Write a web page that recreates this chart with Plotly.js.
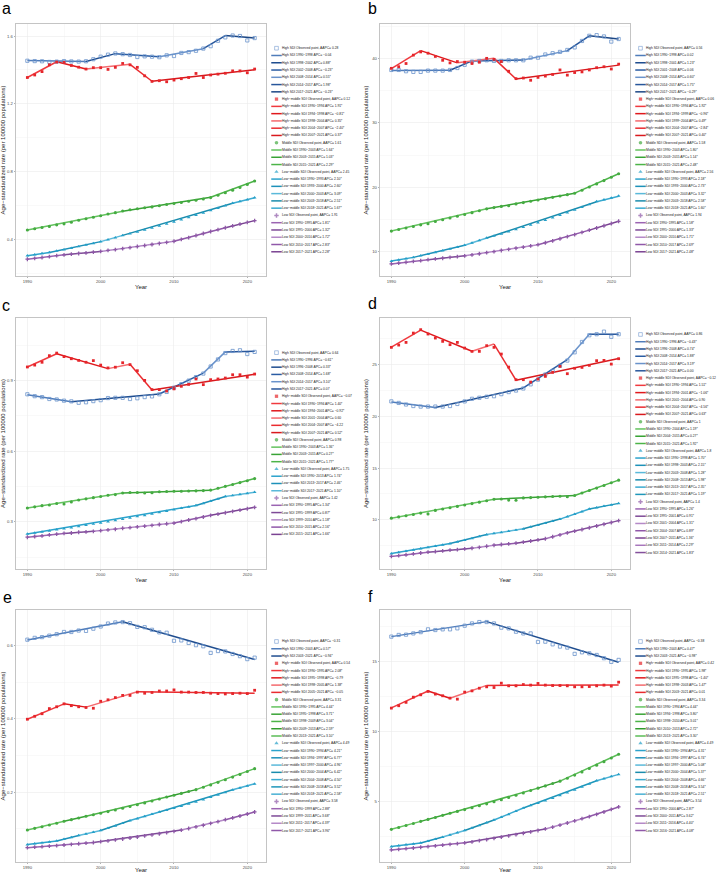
<!DOCTYPE html>
<html><head><meta charset="utf-8">
<script src="https://cdn.plot.ly/plotly-3.0.1.min.js"></script>
<style>html,body{margin:0;padding:0;background:#fff}#chart{width:728px;height:873px}</style>
</head><body><div id="chart"></div>
<script>
const years = [1990,1991,1992,1993,1994,1995,1996,1997,1998,1999,2000,2001,2002,2003,2004,2005,2006,2007,2008,2009,2010,2011,2012,2013,2014,2015,2016,2017,2018,2019,2020,2021];

// ---------- panel a ----------
const a_high_obs = [1.454,1.452,1.451,1.447,1.449,1.452,1.450,1.449,1.451,1.463,1.478,1.490,1.497,1.493,1.488,1.476,1.480,1.478,1.475,1.486,1.482,1.500,1.505,1.513,1.526,1.540,1.572,1.592,1.603,1.600,1.574,1.588];
const a_high_jpYears = [1990,1998,2002,2008,2014,2017,2021];
const a_high_jpFit = [1.455,1.450,1.496,1.478,1.525,1.603,1.588];
const a_hm_obs = [1.355,1.370,1.390,1.430,1.446,1.444,1.426,1.416,1.405,1.413,1.413,1.403,1.415,1.438,1.430,1.415,1.365,1.332,1.336,1.330,1.340,1.348,1.355,1.379,1.355,1.370,1.375,1.380,1.394,1.394,1.383,1.405];
const a_hm_jpYears = [1990,1994,1998,2004,2007,2021];
const a_hm_jpFit = [1.355,1.448,1.405,1.433,1.333,1.401];
const a_mid_obs = [0.455,0.462,0.469,0.476,0.485,0.491,0.500,0.512,0.521,0.530,0.539,0.549,0.557,0.567,0.574,0.580,0.586,0.591,0.598,0.605,0.611,0.617,0.624,0.630,0.638,0.646,0.660,0.675,0.690,0.706,0.724,0.744];
const a_mid_jpYears = [1990,2003,2015,2021];
const a_mid_jpFit = [0.455,0.566,0.648,0.744];
const a_lm_obs = [0.303,0.309,0.316,0.322,0.331,0.339,0.348,0.357,0.366,0.376,0.386,0.398,0.410,0.423,0.433,0.444,0.455,0.467,0.479,0.491,0.503,0.516,0.529,0.542,0.556,0.570,0.584,0.598,0.613,0.623,0.634,0.645];
const a_lm_jpYears = [1990,1993,2000,2003,2018,2021];
const a_lm_jpFit = [0.303,0.322,0.386,0.423,0.613,0.645];
const a_low_obs = [0.282,0.287,0.292,0.297,0.303,0.308,0.312,0.316,0.320,0.324,0.328,0.334,0.339,0.345,0.351,0.357,0.363,0.369,0.375,0.382,0.388,0.399,0.410,0.422,0.434,0.446,0.457,0.468,0.479,0.489,0.500,0.510];
const a_low_jpYears = [1990,1995,2000,2010,2017,2021];
const a_low_jpFit = [0.282,0.308,0.328,0.388,0.468,0.510];
const a_labels = [
"High SDI Observed point, AAPC= 0.28","High SDI 1990−1998 APC= −0.04","High SDI 1998−2002 APC= 0.88*","High SDI 2002−2008 APC= −0.23*","High SDI 2008−2014 APC= 0.55*","High SDI 2014−2017 APC= 1.98*","High SDI 2017−2021 APC= −0.23*",
"High−middle SDI Observed point, AAPC= 0.12","High−middle SDI 1990−1994 APC= 1.91*","High−middle SDI 1994−1998 APC= −0.81*","High−middle SDI 1998−2004 APC= 0.35*","High−middle SDI 2004−2007 APC= −2.40*","High−middle SDI 2007−2021 APC= 0.37*",
"Middle SDI Observed point, AAPC= 1.61","Middle SDI 1990−2003 APC= 1.64*","Middle SDI 2003−2015 APC= 1.03*","Middle SDI 2015−2021 APC= 2.29*",
"Low−middle SDI Observed point, AAPC= 2.45","Low−middle SDI 1990−1993 APC= 2.10*","Low−middle SDI 1993−2000 APC= 2.60*","Low−middle SDI 2000−2003 APC= 3.09*","Low−middle SDI 2003−2018 APC= 2.51*","Low−middle SDI 2018−2021 APC= 1.67*",
"Low SDI Observed point, AAPC= 1.91","Low SDI 1990−1995 APC= 1.81*","Low SDI 1995−2000 APC= 1.32*","Low SDI 2000−2010 APC= 1.72*","Low SDI 2010−2017 APC= 2.83*","Low SDI 2017−2021 APC= 2.28*"];

// ---------- panel b ----------
const b_high_obs = [38.2,38.2,38.0,37.9,37.9,38.1,38.1,38.1,38.2,38.5,39.0,39.5,39.6,39.7,39.6,39.6,39.7,39.7,39.7,40.1,40.1,40.6,40.8,41.0,41.3,41.7,42.7,43.5,43.6,43.4,42.6,43.0];
const b_high_jpYears = [1990,1998,2001,2008,2014,2017,2021];
const b_high_jpFit = [38.1,38.15,39.6,39.75,41.2,43.5,43.0];
const b_hm_obs = [38.45,38.7,39.2,40.5,41.0,40.8,40.3,39.7,39.3,39.5,39.4,39.2,39.4,40.0,39.85,39.5,38.0,36.85,36.95,36.6,37.05,37.25,37.5,38.2,37.4,37.8,37.9,38.2,38.55,38.7,38.35,39.1];
const b_hm_jpYears = [1990,1994,1999,2004,2007,2021];
const b_hm_jpFit = [38.4,41.2,39.3,40.0,36.8,38.95];
const b_mid_obs = [13.2,13.44,13.68,13.92,14.17,14.33,14.69,14.95,15.22,15.50,15.77,16.06,16.35,16.65,16.84,17.03,17.12,17.42,17.62,17.82,18.02,18.22,18.43,18.64,18.85,19.07,19.54,20.03,20.52,21.03,21.55,22.09];
const b_mid_jpYears = [1990,2003,2015,2021];
const b_mid_jpFit = [13.2,16.65,19.08,22.1];
const b_lm_obs = [8.55,8.74,8.93,9.12,9.37,9.62,9.89,10.16,10.43,10.72,11.01,11.38,11.75,12.14,12.45,12.77,13.10,13.44,13.79,14.14,14.51,14.88,15.27,15.66,16.07,16.48,16.91,17.34,17.79,18.07,18.36,18.66];
const b_lm_jpYears = [1990,1993,2000,2003,2018,2021];
const b_lm_jpFit = [8.55,9.12,11.0,12.12,17.75,18.62];
const b_low_obs = [8.10,8.23,8.36,8.49,8.62,8.76,8.88,8.99,9.11,9.23,9.36,9.52,9.68,9.85,10.01,10.19,10.36,10.54,10.72,10.90,11.09,11.39,11.69,12.01,12.33,12.66,13.00,13.35,13.68,14.02,14.37,14.72];
const b_low_jpYears = [1990,1995,2000,2010,2017,2021];
const b_low_jpFit = [8.1,8.76,9.36,11.09,13.35,14.72];
const b_labels = [
"High SDI Observed point, AAPC= 0.56","High SDI 1990−1998 APC= 0.02","High SDI 1998−2001 APC= 1.23*","High SDI 2001−2008 APC= 0.06","High SDI 2008−2014 APC= 0.60*","High SDI 2014−2017 APC= 1.75*","High SDI 2017−2021 APC= −0.29*",
"High−middle SDI Observed point, AAPC= 0.06","High−middle SDI 1990−1994 APC= 1.92*","High−middle SDI 1994−1999 APC= −0.96*","High−middle SDI 1999−2004 APC= 0.49*","High−middle SDI 2004−2007 APC= −2.84*","High−middle SDI 2007−2021 APC= 0.40*",
"Middle SDI Observed point, AAPC= 1.58","Middle SDI 1990−2003 APC= 1.80*","Middle SDI 2003−2015 APC= 1.14*","Middle SDI 2015−2021 APC= 2.48*",
"Low−middle SDI Observed point, AAPC= 2.56","Low−middle SDI 1990−1993 APC= 2.18*","Low−middle SDI 1993−2000 APC= 2.73*","Low−middle SDI 2000−2003 APC= 3.32*","Low−middle SDI 2003−2018 APC= 2.58*","Low−middle SDI 2018−2021 APC= 1.60*",
"Low SDI Observed point, AAPC= 1.94","Low SDI 1990−1995 APC= 1.58*","Low SDI 1995−2000 APC= 1.33*","Low SDI 2000−2010 APC= 1.71*","Low SDI 2010−2017 APC= 2.69*","Low SDI 2017−2021 APC= 2.48*"];

// ---------- panel c ----------
const c_high_obs = [0.842,0.834,0.830,0.822,0.820,0.815,0.812,0.806,0.808,0.813,0.817,0.826,0.827,0.827,0.822,0.825,0.830,0.833,0.842,0.852,0.870,0.885,0.900,0.915,0.930,0.960,0.990,1.017,1.026,1.029,1.013,1.022];
const c_high_jpYears = [1990,1996,2008,2014,2017,2021];
const c_high_jpFit = [0.840,0.810,0.843,0.932,1.022,1.025];
const c_hm_obs = [0.958,0.966,0.978,1.006,1.017,1.002,0.993,0.986,0.978,0.985,0.966,0.954,0.957,0.976,0.968,0.942,0.901,0.862,0.862,0.856,0.865,0.876,0.884,0.907,0.883,0.904,0.907,0.911,0.925,0.925,0.915,0.928];
const c_hm_jpYears = [1990,1994,2001,2004,2007,2021];
const c_hm_jpFit = [0.958,1.014,0.951,0.970,0.860,0.927];
const c_mid_obs = [0.359,0.364,0.369,0.372,0.378,0.376,0.385,0.393,0.398,0.403,0.408,0.413,0.416,0.423,0.425,0.425,0.423,0.424,0.428,0.429,0.430,0.430,0.431,0.432,0.433,0.435,0.443,0.451,0.459,0.467,0.475,0.484];
const c_mid_jpYears = [1990,2003,2015,2021];
const c_mid_jpFit = [0.359,0.423,0.434,0.484];
const c_lm_obs = [0.249,0.253,0.258,0.262,0.267,0.271,0.276,0.281,0.286,0.291,0.296,0.301,0.306,0.312,0.317,0.323,0.328,0.334,0.340,0.346,0.352,0.358,0.364,0.370,0.379,0.388,0.398,0.408,0.412,0.417,0.421,0.426];
const c_lm_jpYears = [1990,2013,2017,2021];
const c_lm_jpFit = [0.249,0.370,0.408,0.426];
const c_low_obs = [0.235,0.238,0.241,0.245,0.248,0.251,0.253,0.256,0.258,0.260,0.263,0.266,0.269,0.273,0.276,0.279,0.282,0.285,0.289,0.292,0.295,0.301,0.308,0.314,0.321,0.328,0.333,0.339,0.345,0.350,0.356,0.362];
const c_low_jpYears = [1990,1995,1999,2010,2015,2021];
const c_low_jpFit = [0.235,0.251,0.260,0.295,0.328,0.362];
const c_labels = [
"High SDI Observed point, AAPC= 0.64","High SDI 1990−1996 APC= −0.61*","High SDI 1996−2008 APC= 0.33*","High SDI 2008−2014 APC= 1.68*","High SDI 2014−2017 APC= 3.10*","High SDI 2017−2021 APC= 0.07",
"High−middle SDI Observed point, AAPC= −0.07","High−middle SDI 1990−1994 APC= 1.40*","High−middle SDI 1994−2001 APC= −0.92*","High−middle SDI 2001−2004 APC= 0.60","High−middle SDI 2004−2007 APC= −4.22","High−middle SDI 2007−2021 APC= 0.52*",
"Middle SDI Observed point, AAPC= 0.98","Middle SDI 1990−2003 APC= 1.36*","Middle SDI 2003−2015 APC= 0.27*","Middle SDI 2015−2021 APC= 1.77*",
"Low−middle SDI Observed point, AAPC= 1.75","Low−middle SDI 1990−2013 APC= 1.74*","Low−middle SDI 2013−2017 APC= 2.46*","Low−middle SDI 2017−2021 APC= 1.10*",
"Low SDI Observed point, AAPC= 1.42","Low SDI 1990−1995 APC= 1.34*","Low SDI 1995−1999 APC= 0.87*","Low SDI 1999−2010 APC= 1.18*","Low SDI 2010−2015 APC= 2.16*","Low SDI 2015−2021 APC= 1.66*"];

// ---------- panel d ----------
const d_high_obs = [21.45,21.3,21.15,21.0,20.95,20.95,20.95,20.95,21.0,21.2,21.45,21.7,21.8,21.9,21.95,22.15,22.35,22.5,22.7,23.1,23.55,24.05,24.4,24.9,25.4,26.2,27.2,27.85,27.95,28.2,27.7,27.95];
const d_high_jpYears = [1990,1996,2008,2014,2017,2021];
const d_high_jpFit = [21.4,20.85,22.75,25.5,27.95,27.95];
const d_hm_obs = [26.68,26.9,27.16,28.06,28.39,27.97,27.58,27.26,26.94,27.16,26.61,26.29,26.29,26.84,26.68,26.03,24.77,23.55,23.55,23.32,23.61,23.87,24.26,24.84,24.13,24.65,24.74,24.94,25.39,25.42,25.06,25.58];
const d_hm_jpYears = [1990,1994,2001,2004,2007,2021];
const d_hm_jpFit = [26.7,28.35,26.3,27.0,23.5,25.6];
const d_mid_obs = [10.15,10.27,10.39,10.50,10.64,10.56,10.90,11.03,11.16,11.29,11.43,11.56,11.70,11.84,11.98,12.01,11.90,11.88,12.11,12.14,12.17,12.21,12.24,12.27,12.22,12.34,12.58,12.82,13.06,13.31,13.57,13.83];
const d_mid_jpYears = [1990,2004,2015,2021];
const d_mid_jpFit = [10.15,11.98,12.34,13.83];
const d_lm_obs = [6.72,6.83,6.95,7.07,7.19,7.31,7.44,7.56,7.69,7.86,8.03,8.20,8.38,8.56,8.67,8.78,8.89,9.00,9.12,9.30,9.48,9.67,9.86,10.06,10.30,10.54,10.79,11.04,11.17,11.31,11.44,11.58];
const d_lm_jpYears = [1990,1998,2003,2008,2013,2017,2021];
const d_lm_jpFit = [6.72,7.69,8.56,9.12,10.06,11.04,11.58];
const d_low_obs = [6.45,6.53,6.61,6.69,6.78,6.86,6.92,6.98,7.05,7.11,7.18,7.24,7.33,7.43,7.53,7.60,7.66,7.73,7.83,7.94,8.05,8.16,8.35,8.54,8.73,8.89,9.05,9.22,9.39,9.56,9.73,9.91];
const d_low_jpYears = [1990,1995,2001,2004,2007,2011,2014,2021];
const d_low_jpFit = [6.45,6.86,7.24,7.53,7.73,8.16,8.73,9.91];
const d_labels = [
"High SDI Observed point, AAPC= 0.86","High SDI 1990−1996 APC= −0.43*","High SDI 1996−2008 APC= 0.74*","High SDI 2008−2014 APC= 1.88*","High SDI 2014−2017 APC= 3.19*","High SDI 2017−2021 APC= 0.00",
"High−middle SDI Observed point, AAPC= −0.12","High−middle SDI 1990−1994 APC= 1.51*","High−middle SDI 1994−2001 APC= −1.06*","High−middle SDI 2001−2004 APC= 0.90","High−middle SDI 2004−2007 APC= −4.56*","High−middle SDI 2007−2021 APC= 0.63*",
"Middle SDI Observed point, AAPC= 1","Middle SDI 1990−2004 APC= 1.19*","Middle SDI 2004−2015 APC= 0.27*","Middle SDI 2015−2021 APC= 1.92*",
"Low−middle SDI Observed point, AAPC= 1.8","Low−middle SDI 1990−1998 APC= 1.70*","Low−middle SDI 1998−2003 APC= 2.15*","Low−middle SDI 2003−2008 APC= 1.28*","Low−middle SDI 2008−2013 APC= 1.98*","Low−middle SDI 2013−2017 APC= 2.35*","Low−middle SDI 2017−2021 APC= 1.19*",
"Low SDI Observed point, AAPC= 1.4","Low SDI 1990−1995 APC= 1.26*","Low SDI 1995−2001 APC= 0.91*","Low SDI 2001−2004 APC= 1.31*","Low SDI 2004−2007 APC= 0.89*","Low SDI 2007−2011 APC= 1.36*","Low SDI 2011−2014 APC= 2.29*","Low SDI 2014−2021 APC= 1.83*"];

// ---------- panel e ----------
const e_high_obs = [0.616,0.621,0.623,0.627,0.631,0.637,0.637,0.641,0.640,0.646,0.652,0.660,0.663,0.664,0.661,0.651,0.650,0.643,0.636,0.635,0.613,0.614,0.607,0.601,0.598,0.580,0.585,0.584,0.577,0.571,0.563,0.567];
const e_high_jpYears = [1990,2003,2021];
const e_high_jpFit = [0.615,0.665,0.562];
const e_hm_obs = [0.399,0.407,0.414,0.428,0.433,0.441,0.436,0.433,0.431,0.429,0.448,0.452,0.458,0.464,0.464,0.473,0.470,0.472,0.476,0.476,0.479,0.473,0.473,0.472,0.472,0.470,0.469,0.468,0.469,0.470,0.469,0.478];
const e_hm_jpYears = [1990,1995,1998,2005,2021];
const e_hm_jpFit = [0.399,0.441,0.432,0.474,0.470];
const e_mid_obs = [0.0970,0.1013,0.1058,0.1105,0.1154,0.1205,0.1250,0.1296,0.1344,0.1385,0.1427,0.1470,0.1515,0.1561,0.1608,0.1657,0.1707,0.1759,0.1813,0.1868,0.1916,0.1966,0.2017,0.2069,0.2133,0.2199,0.2268,0.2338,0.2411,0.2485,0.2562,0.2642];
const e_mid_jpYears = [1990,1995,1998,2009,2013,2021];
const e_mid_jpFit = [0.097,0.1205,0.1344,0.1868,0.2069,0.2642];
const e_lm_obs = [0.0570,0.0594,0.0619,0.0644,0.0670,0.0716,0.0766,0.0820,0.0862,0.0906,0.0955,0.1016,0.1081,0.1151,0.1225,0.1280,0.1338,0.1398,0.1461,0.1512,0.1566,0.1621,0.1678,0.1737,0.1798,0.1861,0.1926,0.1994,0.2064,0.2117,0.2172,0.2228];
const e_lm_jpYears = [1990,1994,1997,2000,2004,2008,2018,2021];
const e_lm_jpFit = [0.057,0.067,0.082,0.0955,0.1225,0.1461,0.2064,0.2228];
const e_low_obs = [0.0485,0.0499,0.0513,0.0528,0.0543,0.0559,0.0575,0.0592,0.0609,0.0626,0.0649,0.0673,0.0698,0.0723,0.0750,0.0777,0.0806,0.0836,0.0866,0.0898,0.0931,0.0966,0.1008,0.1052,0.1098,0.1147,0.1197,0.1250,0.1299,0.1351,0.1404,0.1460];
const e_low_jpYears = [1990,1999,2011,2017,2021];
const e_low_jpFit = [0.0485,0.0626,0.0966,0.1250,0.1460];
const e_labels = [
"High SDI Observed point, AAPC= −0.31","High SDI 1990−2003 APC= 0.57*","High SDI 2003−2021 APC= −0.94*",
"High−middle SDI Observed point, AAPC= 0.54","High−middle SDI 1990−1995 APC= 2.08*","High−middle SDI 1995−1998 APC= −0.79","High−middle SDI 1998−2005 APC= 1.38*","High−middle SDI 2005−2021 APC= −0.05",
"Middle SDI Observed point, AAPC= 3.31","Middle SDI 1990−1995 APC= 4.44*","Middle SDI 1995−1998 APC= 3.71*","Middle SDI 1998−2009 APC= 3.04*","Middle SDI 2009−2013 APC= 2.59*","Middle SDI 2013−2021 APC= 3.10*",
"Low−middle SDI Observed point, AAPC= 4.49","Low−middle SDI 1990−1994 APC= 4.21*","Low−middle SDI 1994−1997 APC= 6.77*","Low−middle SDI 1997−2000 APC= 4.96*","Low−middle SDI 2000−2004 APC= 6.42*","Low−middle SDI 2004−2008 APC= 4.50*","Low−middle SDI 2008−2018 APC= 3.52*","Low−middle SDI 2018−2021 APC= 2.58*",
"Low SDI Observed point, AAPC= 3.58","Low SDI 1990−1999 APC= 2.88*","Low SDI 1999−2011 APC= 3.68*","Low SDI 2011−2017 APC= 4.39*","Low SDI 2017−2021 APC= 3.96*"];

// ---------- panel f ----------
const f_high_obs = [16.78,16.9,16.92,17.01,17.1,17.3,17.25,17.3,17.3,17.37,17.56,17.72,17.82,17.82,17.72,17.42,17.37,17.13,17.01,17.01,16.4,16.42,16.23,16.07,16.0,15.55,15.66,15.59,15.47,15.24,14.98,15.12];
const f_high_jpYears = [1990,2003,2021];
const f_high_jpFit = [16.78,17.85,14.95];
const f_hm_obs = [11.68,11.85,12.09,12.46,12.63,12.87,12.68,12.56,12.39,12.32,12.82,12.91,13.10,13.2,13.15,13.46,13.27,13.27,13.36,13.32,13.44,13.32,13.29,13.29,13.27,13.2,13.2,13.22,13.27,13.32,13.25,13.53];
const f_hm_jpYears = [1990,1995,1998,2003,2021];
const f_hm_jpFit = [11.7,12.9,12.38,13.3,13.32];
const f_mid_obs = [3.03,3.16,3.30,3.45,3.60,3.74,3.88,4.03,4.18,4.31,4.44,4.57,4.71,4.85,5.00,5.15,5.30,5.46,5.63,5.80,5.97,6.13,6.30,6.47,6.68,6.90,7.13,7.37,7.61,7.86,8.12,8.39];
const f_mid_jpYears = [1990,1994,1998,2010,2013,2021];
const f_mid_jpFit = [3.03,3.60,4.18,5.97,6.47,8.39];
const f_lm_obs = [1.80,1.86,1.93,1.99,2.06,2.19,2.33,2.48,2.63,2.79,2.95,3.13,3.31,3.50,3.70,3.90,4.10,4.32,4.55,4.73,4.90,5.08,5.26,5.45,5.65,5.85,6.06,6.27,6.50,6.65,6.80,6.95];
const f_lm_jpYears = [1990,1994,1997,2000,2004,2008,2018,2021];
const f_lm_jpFit = [1.80,2.06,2.48,2.95,3.70,4.55,6.50,6.95];
const f_low_obs = [1.56,1.60,1.65,1.70,1.75,1.80,1.85,1.90,1.96,2.01,2.07,2.14,2.22,2.30,2.39,2.47,2.56,2.65,2.75,2.85,2.95,3.06,3.19,3.33,3.48,3.63,3.79,3.94,4.10,4.27,4.45,4.63];
const f_low_jpYears = [1990,2000,2011,2016,2021];
const f_low_jpFit = [1.56,2.07,3.06,3.79,4.63];
const f_labels = [
"High SDI Observed point, AAPC= −0.38","High SDI 1990−2003 APC= 0.47*","High SDI 2003−2021 APC= −0.98*",
"High−middle SDI Observed point, AAPC= 0.42","High−middle SDI 1990−1995 APC= 1.98*","High−middle SDI 1995−1998 APC= −1.40*","High−middle SDI 1998−2003 APC= 1.47*","High−middle SDI 2003−2021 APC= 0.01",
"Middle SDI Observed point, AAPC= 3.34","Middle SDI 1990−1994 APC= 4.44*","Middle SDI 1994−1998 APC= 3.80*","Middle SDI 1998−2010 APC= 3.01*","Middle SDI 2010−2013 APC= 2.72*","Middle SDI 2013−2021 APC= 3.30*",
"Low−middle SDI Observed point, AAPC= 4.49","Low−middle SDI 1990−1994 APC= 4.31*","Low−middle SDI 1994−1997 APC= 6.74*","Low−middle SDI 1997−2000 APC= 5.08*","Low−middle SDI 2000−2004 APC= 5.37*","Low−middle SDI 2004−2008 APC= 4.66*","Low−middle SDI 2008−2018 APC= 3.54*","Low−middle SDI 2018−2021 APC= 2.51*",
"Low SDI Observed point, AAPC= 3.54","Low SDI 1990−2000 APC= 2.87*","Low SDI 2000−2011 APC= 3.62*","Low SDI 2011−2016 APC= 4.40*","Low SDI 2016−2021 APC= 4.08*"];

const panelLetters = ["a","b","c","d","e","f"];
const yTitle = "Age−standardized rate (per 100000 populations)";
const xTitle = "Year";

// ---------- styles ----------
const groupStyle = {
  high: {symbol:'square-open', color:'#6a93cc', size:3.2, lw:0.8,
         pal:['#4f7cba','#1f4d8f','#2a5ca3','#6a93cb','#27569b','#1c4785']},
  hm:   {symbol:'square', color:'#e5262b', size:2.8, lw:0,
         pal:['#f0393e','#e0181c','#f46a6e','#ea2b2f','#d9191d']},
  mid:  {symbol:'circle', color:'#45ab42', size:3.1, lw:0,
         pal:['#64c35f','#38a335','#4cb448','#309b2d','#5bbd57']},
  lm:   {symbol:'triangle-up', color:'#259fc8', size:3.3, lw:0,
         pal:['#2ca3cc','#1d91b9','#5ab9da','#1a8cad','#3aaad0','#1f97ba','#48b0d4']},
  low:  {symbol:'cross', color:'#8d58a6', size:3.2, lw:0,
         pal:['#9b64b2','#7e4a97','#b58ac8','#9058a9','#7a4392','#a776bc','#84509c']}
};

const panels = [
  {col:0,row:0,yRange:[0.183,1.671],dtick:0.4,labels:a_labels,groups:[
    ['high',a_high_obs,a_high_jpYears,a_high_jpFit],['hm',a_hm_obs,a_hm_jpYears,a_hm_jpFit],['mid',a_mid_obs,a_mid_jpYears,a_mid_jpFit],['lm',a_lm_obs,a_lm_jpYears,a_lm_jpFit],['low',a_low_obs,a_low_jpYears,a_low_jpFit]]},
  {col:1,row:0,yRange:[6.23,45.33],dtick:10,labels:b_labels,groups:[
    ['high',b_high_obs,b_high_jpYears,b_high_jpFit],['hm',b_hm_obs,b_hm_jpYears,b_hm_jpFit],['mid',b_mid_obs,b_mid_jpYears,b_mid_jpFit],['lm',b_lm_obs,b_lm_jpYears,b_lm_jpFit],['low',b_low_obs,b_low_jpYears,b_low_jpFit]]},
  {col:0,row:1,yRange:[0.100,1.166],dtick:0.3,labels:c_labels,groups:[
    ['high',c_high_obs,c_high_jpYears,c_high_jpFit],['hm',c_hm_obs,c_hm_jpYears,c_hm_jpFit],['mid',c_mid_obs,c_mid_jpYears,c_mid_jpFit],['lm',c_lm_obs,c_lm_jpYears,c_lm_jpFit],['low',c_low_obs,c_low_jpYears,c_low_jpFit]]},
  {col:1,row:1,yRange:[5.23,29.52],dtick:5,labels:d_labels,groups:[
    ['high',d_high_obs,d_high_jpYears,d_high_jpFit],['hm',d_hm_obs,d_hm_jpYears,d_hm_jpFit],['mid',d_mid_obs,d_mid_jpYears,d_mid_jpFit],['lm',d_lm_obs,d_lm_jpYears,d_lm_jpFit],['low',d_low_obs,d_low_jpYears,d_low_jpFit]]},
  {col:0,row:2,yRange:[0.0095,0.697],dtick:0.2,labels:e_labels,groups:[
    ['high',e_high_obs,e_high_jpYears,e_high_jpFit],['hm',e_hm_obs,e_hm_jpYears,e_hm_jpFit],['mid',e_mid_obs,e_mid_jpYears,e_mid_jpFit],['lm',e_lm_obs,e_lm_jpYears,e_lm_jpFit],['low',e_low_obs,e_low_jpYears,e_low_jpFit]]},
  {col:1,row:2,yRange:[0.70,18.68],dtick:5,labels:f_labels,groups:[
    ['high',f_high_obs,f_high_jpYears,f_high_jpFit],['hm',f_hm_obs,f_hm_jpYears,f_hm_jpFit],['mid',f_mid_obs,f_mid_jpYears,f_mid_jpFit],['lm',f_lm_obs,f_lm_jpYears,f_lm_jpFit],['low',f_low_obs,f_low_jpYears,f_low_jpFit]]}
];

// ---------- geometry ----------
const W = 728, H = 873;
const colX = [0, 364];
const boxX = [[16,266],[380,630]];
const rowBox = [[24,276],[318,569],[610,862]];
const letterPos = [[1,13],[367,13],[1,310],[367,308],[2,602],[367,601]];
const legendGap = 7.27;

const FONT = 'Liberation Sans, Arial, Helvetica, sans-serif';
const traces = [];
const annotations = [];
const layout = {
  width:W, height:H, margin:{l:0,r:0,t:0,b:0}, autosize:false,
  paper_bgcolor:'#ffffff', plot_bgcolor:'rgba(0,0,0,0)', showlegend:false, hovermode:false,
  font:{family:FONT, color:'#1a1a1a'}
};

const axCommon = {
  showline:true, mirror:true, linecolor:'#b5b5b5', linewidth:0.8,
  showgrid:true, gridcolor:'#ebebeb', gridwidth:0.6, zeroline:false,
  ticks:'outside', ticklen:1.5, tickwidth:0.5, tickcolor:'#666',
  tickfont:{size:4.2, color:'#4d4d4d', family:FONT}, automargin:false, fixedrange:true
};

const legLineX = [], legLineY = [], legLineC = [];
const legObsX = [], legObsY = [], legObsC = [], legObsS = [], legObsSz = [], legObsLW = [];

panels.forEach((p, i) => {
  const n = i + 1;
  const xa = n === 1 ? 'xaxis' : 'xaxis' + n;
  const ya = n === 1 ? 'yaxis' : 'yaxis' + n;
  const xr = n === 1 ? 'x' : 'x' + n;
  const yr = n === 1 ? 'y' : 'y' + n;
  const bx = boxX[p.col], by = rowBox[p.row];
  layout[xa] = Object.assign({}, axCommon, {
    domain:[bx[0]/W, bx[1]/W], range:[1988.45, 2022.55], anchor:yr,
    tick0:1990, dtick:10, minor:{dtick:5, showgrid:true, gridcolor:'#f3f3f3', gridwidth:0.5},
    title:{text:xTitle, font:{size:6, color:'#1a1a1a', family:FONT}, standoff:1}
  });
  layout[ya] = Object.assign({}, axCommon, {
    domain:[1 - by[1]/H, 1 - by[0]/H], range:p.yRange, anchor:xr,
    tick0:0, dtick:p.dtick, minor:{dtick:p.dtick/2, showgrid:true, gridcolor:'#f3f3f3', gridwidth:0.5},
    title:{text:yTitle, font:{size:6, color:'#1a1a1a', family:FONT}, standoff:2}
  });

  const legendEntries = [];
  p.groups.forEach(g => {
    const st = groupStyle[g[0]];
    const jy = g[2], jv = g[3];
    legendEntries.push({type:'obs', st:st});
    for (let s = 0; s < jy.length - 1; s++) {
      const c = st.pal[s % st.pal.length];
      traces.push({x:[jy[s], jy[s+1]], y:[jv[s], jv[s+1]], mode:'lines', type:'scatter',
        xaxis:xr, yaxis:yr, line:{color:c, width:1.5}, hoverinfo:'skip'});
      legendEntries.push({type:'seg', color:c});
    }
  });
  p.groups.forEach(g => {
    const st = groupStyle[g[0]];
    traces.push({x:years, y:g[1], mode:'markers', type:'scatter', xaxis:xr, yaxis:yr, cliponaxis:false,
      marker:{symbol:st.symbol, size:st.size, color:st.color, line:{width:st.lw, color:st.color}}, hoverinfo:'skip'});
  });

  const N = legendEntries.length;
  const centerY = (by[0] + by[1]) / 2;
  const firstY = centerY - (N - 1) / 2 * legendGap;
  const keyX = colX[p.col] + 276.5;
  const textX = colX[p.col] + 281;
  legendEntries.forEach((e, k) => {
    const yPix = firstY + k * legendGap;
    if (e.type === 'seg') {
      legLineX.push(keyX); legLineY.push(yPix); legLineC.push(e.color);
    } else {
      legObsX.push(keyX); legObsY.push(yPix); legObsC.push(e.st.color); legObsS.push(e.st.symbol);
      legObsSz.push(e.st.size + 0.5); legObsLW.push(e.st.lw);
    }
    annotations.push({xref:'paper', yref:'paper', x:textX/W, y:1 - yPix/H, xanchor:'left', yanchor:'middle',
      text:p.labels[k], showarrow:false, borderpad:0, font:{size:3.3, color:'#1a1a1a', family:FONT}});
  });

  const lp = letterPos[i];
  annotations.push({xref:'paper', yref:'paper', x:lp[0]/W, y:1 - (lp[1] + 4.5)/H, xanchor:'left', yanchor:'bottom',
    text:panelLetters[i], showarrow:false, borderpad:0, font:{size:16, color:'#000', family:FONT}});
});

layout.xaxis7 = {domain:[0,1], range:[0,W], anchor:'y7', visible:false, fixedrange:true};
layout.yaxis7 = {domain:[0,1], range:[H,0], anchor:'x7', visible:false, fixedrange:true};
traces.push({x:legLineX, y:legLineY, mode:'markers', type:'scatter', xaxis:'x7', yaxis:'y7', cliponaxis:false, hoverinfo:'skip',
  marker:{symbol:'line-ew', size:7.5, color:legLineC, line:{color:legLineC, width:1.5}}});
traces.push({x:legObsX, y:legObsY, mode:'markers', type:'scatter', xaxis:'x7', yaxis:'y7', cliponaxis:false, hoverinfo:'skip',
  marker:{symbol:legObsS, size:legObsSz, color:legObsC, line:{color:legObsC, width:legObsLW}}});

layout.annotations = annotations;

Plotly.newPlot('chart', traces, layout, {staticPlot:true, displayModeBar:false});
</script>
</body></html>
